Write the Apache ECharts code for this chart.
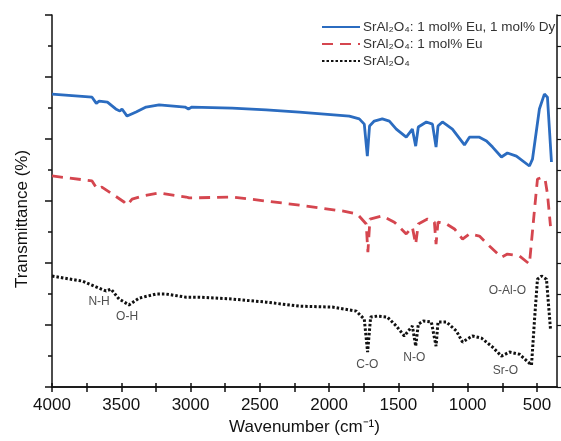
<!DOCTYPE html>
<html lang="en">
<head>
    <meta charset="UTF-8">
    <title>FTIR spectra</title>
    <script src="https://cdn.jsdelivr.net/npm/echarts@6/dist/echarts.min.js"></script>
    <style>
        html, body { margin: 0; padding: 0; background: #fff; }
        #chart { width: 561px; height: 441px; }
    </style>
</head>
<body>
<div id="chart"></div>
<script>
    // [wavenumber, transmittance (arbitrary offset units)]
    var dyData = [
        [4000, 9.45], [3711, 9.35], [3680, 9.15], [3660, 9.22], [3600, 9.19], [3540, 8.97],
        [3510, 8.90], [3495, 8.97], [3458, 8.74], [3393, 8.87], [3321, 9.03], [3227, 9.10],
        [3040, 9.03], [3015, 8.97], [2990, 9.03], [2700, 9.00], [2454, 8.94], [2215, 8.87],
        [1854, 8.74], [1782, 8.65], [1746, 8.48], [1724, 7.45], [1708, 8.42], [1674, 8.58],
        [1616, 8.65], [1565, 8.58], [1515, 8.32], [1443, 8.06], [1399, 8.32], [1375, 7.77],
        [1356, 8.39], [1298, 8.55], [1254, 8.48], [1228, 7.74], [1214, 8.42], [1182, 8.55],
        [1110, 8.32], [1023, 7.81], [987, 8.06], [915, 8.06], [864, 7.94], [820, 7.74],
        [756, 7.42], [713, 7.55], [648, 7.45], [554, 7.13], [532, 7.35], [482, 8.97],
        [446, 9.45], [424, 9.35], [395, 7.26]
    ];
    var euData = [
        [4000, 6.81], [3711, 6.65], [3675, 6.39], [3640, 6.45], [3566, 6.23], [3480, 5.97],
        [3458, 5.87], [3422, 6.06], [3350, 6.16], [3227, 6.26], [3032, 6.13], [3010, 6.10],
        [2700, 6.13], [2454, 6.00], [2215, 5.87], [1905, 5.68], [1796, 5.58], [1732, 5.26],
        [1720, 4.35], [1705, 5.42], [1616, 5.52], [1529, 5.32], [1443, 4.94], [1399, 5.16],
        [1375, 4.61], [1356, 5.26], [1290, 5.42], [1240, 5.32], [1228, 4.61], [1214, 5.32],
        [1153, 5.26], [1095, 5.10], [1037, 4.77], [987, 4.94], [915, 4.87], [843, 4.55],
        [756, 4.19], [713, 4.29], [626, 4.23], [554, 3.97], [517, 5.74], [496, 6.71],
        [460, 6.77], [439, 6.65], [424, 6.23], [402, 5.19]
    ];
    var pureData = [
        [4000, 3.58], [3783, 3.42], [3682, 3.23], [3610, 3.10], [3574, 3.16], [3516, 2.84],
        [3444, 2.65], [3371, 2.87], [3249, 3.00], [3176, 3.00], [3032, 2.90], [2938, 2.90],
        [2700, 2.84], [2454, 2.74], [2215, 2.61], [1977, 2.58], [1804, 2.45], [1746, 2.19],
        [1722, 1.13], [1700, 2.26], [1652, 2.29], [1580, 2.26], [1515, 1.97], [1457, 1.65],
        [1399, 1.97], [1375, 1.32], [1356, 2.03], [1320, 2.13], [1262, 2.10], [1228, 1.32],
        [1214, 2.10], [1153, 2.10], [1081, 1.81], [1037, 1.45], [966, 1.65], [900, 1.58],
        [820, 1.29], [756, 1.00], [698, 1.13], [626, 1.06], [539, 0.71], [517, 2.19],
        [496, 3.48], [467, 3.58], [431, 3.48], [402, 1.87]
    ];
    var seriesNames = [
        'SrAl\u2082O\u2084: 1 mol% Eu, 1 mol% Dy',
        'SrAl\u2082O\u2084: 1 mol% Eu',
        'SrAl\u2082O\u2084'
    ];
    var xLabels = [4000, 3500, 3000, 2500, 2000, 1500, 1000, 500];
    var xTicks = [4000, 3750, 3500, 3250, 3000, 2750, 2500, 2250, 2000, 1750, 1500, 1250, 1000, 750, 500];
    // band assignments: [text, wavenumber, transmittance]
    var bandLabels = [
        ['N-H', 3660, 2.74],
        ['O-H', 3458, 2.26],
        ['C-O', 1724, 0.71],
        ['N-O', 1385, 0.94],
        ['Sr-O', 727, 0.52],
        ['O-Al-O', 713, 3.10]
    ];

    var chart = echarts.init(document.getElementById('chart'));
    var font = '"Liberation Sans", Arial, sans-serif';

    var axisLine = { show: true, lineStyle: { color: '#111', width: 1.5 } };

    var option = {
        animation: false,
        textStyle: { fontFamily: font },
        grid: { left: 52, right: 4, top: 15, bottom: 53 },
        legend: {
            data: seriesNames,
            left: 316,
            top: 15,
            orient: 'vertical',
            itemWidth: 38,
            itemHeight: 10,
            itemGap: 3,
            itemStyle: { opacity: 0 },
            textStyle: { fontSize: 13.5, color: '#333', fontFamily: font, padding: [0, 0, 0, -2] }
        },
        xAxis: [
            {
                type: 'value', inverse: true, min: 355, max: 4000,
                axisLine: axisLine,
                axisTick: { show: true, customValues: xTicks, length: 5, lineStyle: { color: '#111', width: 1.5 } },
                axisLabel: {
                    customValues: xLabels, fontSize: 17, color: '#111', margin: 10,
                    formatter: function (v) { return String(v); }
                },
                splitLine: { show: false },
                name: 'Wavenumber (cm\u207B\u00B9)',
                nameLocation: 'middle',
                nameGap: 31,
                nameTextStyle: { fontSize: 17, color: '#111' }
            },
            {
                type: 'value', inverse: true, min: 355, max: 4000, position: 'top',
                axisLine: axisLine,
                axisTick: { show: true, customValues: xTicks, length: 4, lineStyle: { color: '#111', width: 1.5 } },
                axisLabel: { show: false },
                splitLine: { show: false }
            }
        ],
        yAxis: [
            {
                type: 'value', min: 0, max: 12, interval: 2,
                axisLine: axisLine,
                axisTick: { show: true, length: 7, lineStyle: { color: '#111', width: 1.5 } },
                minorTick: { show: true, splitNumber: 2, length: 4, lineStyle: { color: '#111', width: 1.5 } },
                axisLabel: { show: false },
                splitLine: { show: false }
            },
            {
                type: 'value', min: 0, max: 12, interval: 1, position: 'right',
                axisLine: axisLine,
                axisTick: { show: true, length: 5, lineStyle: { color: '#111', width: 1.2 } },
                axisLabel: { show: false },
                splitLine: { show: false }
            }
        ],
        graphic: [
            {
                type: 'text', x: 22, y: 219, rotation: Math.PI / 2,
                style: {
                    text: 'Transmittance (%)', fontSize: 17, fill: '#111', fontFamily: font,
                    textAlign: 'center', textVerticalAlign: 'middle'
                }
            }
        ],
        series: [
            {
                name: seriesNames[0], type: 'line', data: dyData, symbol: 'none',
                lineStyle: { color: '#2b6cc0', width: 2.8 }, itemStyle: { color: '#2b6cc0' }
            },
            {
                name: seriesNames[1], type: 'line', data: euData, symbol: 'none',
                lineStyle: { color: '#d5464f', width: 2.8, type: [11, 7] }, itemStyle: { color: '#d5464f' }
            },
            {
                name: seriesNames[2], type: 'line', data: pureData, symbol: 'none',
                lineStyle: { color: '#111', width: 3, type: [2.5, 2] }, itemStyle: { color: '#111' }
            },
            {
                type: 'scatter', silent: true, symbolSize: 0,
                data: bandLabels.map(function (b) { return { name: b[0], value: [b[1], b[2]] }; }),
                label: {
                    show: true, position: 'inside', formatter: '{b}',
                    fontSize: 12, color: '#222'
                }
            }
        ]
    };
    chart.setOption(option);
</script>
</body>
</html>
